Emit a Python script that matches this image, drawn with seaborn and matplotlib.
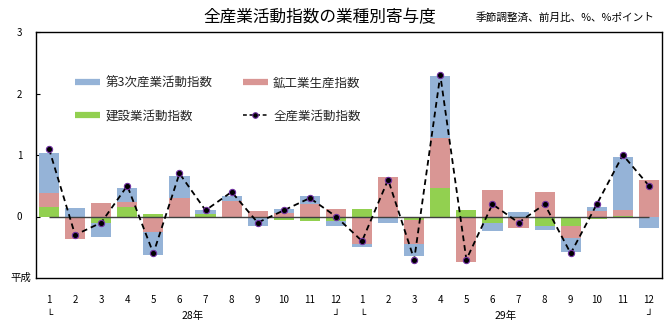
import numpy as np
import pandas as pd
import matplotlib
matplotlib.use("Agg")
import matplotlib.pyplot as plt
import matplotlib.transforms as mtransforms
from matplotlib.lines import Line2D
import seaborn as sns

# 平成28年1月〜29年12月、前月比への寄与度（%ポイント）
years = ["28年"] * 12 + ["29年"] * 12
months = list(range(1, 13)) * 2

tertiary = [0.65, 0.14, -0.22, 0.22, -0.37, 0.36, 0.06, 0.08, -0.15, 0.07, 0.13, -0.07,
            -0.06, -0.10, -0.21, 1.00, 0.00, -0.13, 0.07, -0.06, -0.22, 0.07, 0.86, -0.17]
mining = [0.23, -0.37, 0.22, 0.09, -0.25, 0.30, 0.00, 0.25, 0.09, 0.05, 0.20, 0.13,
          -0.44, 0.64, -0.39, 0.81, -0.74, 0.43, -0.17, 0.40, -0.19, 0.09, 0.10, 0.59]
construction = [0.15, 0.00, -0.11, 0.15, 0.04, 0.00, 0.04, -0.02, 0.00, -0.05, -0.07, -0.08,
                0.12, 0.00, -0.05, 0.47, 0.10, -0.11, -0.01, -0.16, -0.16, -0.04, 0.01, -0.01]
total = [1.1, -0.3, -0.1, 0.5, -0.6, 0.7, 0.1, 0.4, -0.1, 0.1, 0.3, 0.0,
         -0.4, 0.6, -0.7, 2.3, -0.7, 0.2, -0.1, 0.2, -0.6, 0.2, 1.0, 0.5]

BLUE = "#95B3D7"
RED = "#D99694"
GREEN = "#92D050"

sns.set_theme(style="white")
plt.rcParams["font.family"] = ["Noto Sans CJK JP", "DejaVu Sans"]

keys = [f"{y}{m}月" for y, m in zip(years, months)]
df = pd.DataFrame({
    "key": keys,
    "第3次産業活動指数": tertiary,
    "鉱工業生産指数": mining,
    "建設業活動指数": construction,
    "全産業活動指数": total,
})

fig = plt.figure(figsize=(6.7, 3.28), dpi=100)
ax = fig.add_axes([36 / 670, 1 - 278 / 328, 626 / 670, 246 / 328])

# stacked contributions: construction nearest zero, then mining, then tertiary
layers = [("建設業活動指数", GREEN), ("鉱工業生産指数", RED), ("第3次産業活動指数", BLUE)]
pos = np.zeros(len(df))
neg = np.zeros(len(df))
levels = []
for name, color in layers:
    v = df[name].to_numpy()
    pos = pos + np.clip(v, 0, None)
    neg = neg + np.clip(v, None, 0)
    levels.append((color, pos.copy(), neg.copy()))

for color, p, n in reversed(levels):
    for lev in (p, n):
        sns.barplot(x=df["key"], y=lev, order=keys, color=color, saturation=1,
                    width=0.77, linewidth=0, errorbar=None, ax=ax, zorder=1)

ax.hlines(0, 0, len(df) - 1, color="#404040", lw=1.0, zorder=2)

sns.lineplot(x=np.arange(len(df)), y=df["全産業活動指数"], ax=ax, sort=False,
             color="black", lw=1.3, linestyle=(0, (3.2, 2.2)), marker="o",
             markersize=4.5, markerfacecolor="black", markeredgecolor="#7030A0",
             markeredgewidth=0.8, zorder=3)

ax.set_xlim(-0.5, len(df) - 0.5)
ax.set_ylim(-1, 3)
ax.set_yticks([0, 1, 2, 3])
ax.set_yticklabels(["0", "1", "2", "3"])
ax.set_xticks(np.arange(len(df)))
ax.set_xticklabels([str(m) for m in months])
ax.set_xlabel("")
ax.set_ylabel("")
ax.tick_params(axis="y", left=True, direction="in", length=3, width=0.8,
               color="black", pad=10, labelsize=7, labelcolor="black")
ax.tick_params(axis="x", bottom=False, length=0, pad=12, labelsize=7, labelcolor="black")
for s in ax.spines.values():
    s.set_visible(True)
    s.set_color("black")
    s.set_linewidth(1.0)

# era label at the bottom of the value axis
ytrans = mtransforms.blended_transform_factory(ax.transAxes, ax.transData)
ax.text(-0.008, -1, "平成", transform=ytrans, ha="right", va="center",
        fontsize=7.5, color="black")

# year labels with bracket marks
xtrans = mtransforms.blended_transform_factory(ax.transData, ax.transAxes)
for i0, i1, label in [(0, 11, "28年"), (12, 23, "29年")]:
    ax.text((i0 + i1) / 2, -0.155, label, transform=xtrans, ha="center", va="center",
            fontsize=7.5, color="black")
    ax.text(i0, -0.152, "└", transform=xtrans, ha="center", va="center",
            fontsize=7.5, color="black", family="DejaVu Sans", fontweight="bold")
    ax.text(i1, -0.152, "┘", transform=xtrans, ha="center", va="center",
            fontsize=7.5, color="black", family="DejaVu Sans", fontweight="bold")

handles = [
    Line2D([], [], color=BLUE, lw=4.5, solid_capstyle="butt"),
    Line2D([], [], color=GREEN, lw=4.5, solid_capstyle="butt"),
    Line2D([], [], color=RED, lw=4.5, solid_capstyle="butt"),
    Line2D([], [], color="black", lw=1.1, linestyle=(0, (2.5, 1.8)), marker="o",
           markersize=4, markerfacecolor="black", markeredgecolor="#7030A0",
           markeredgewidth=0.8),
]
labels = ["第3次産業活動指数", "建設業活動指数", "鉱工業生産指数", "全産業活動指数"]
ax.legend(handles, labels, ncol=2, loc="upper left",
          bbox_to_anchor=((75 - 36) / 626, 0.819), frameon=False, fontsize=9,
          handlelength=2.0, handletextpad=0.42, columnspacing=2.45,
          labelspacing=1.62, borderpad=0, borderaxespad=0, numpoints=1)

fig.text(320 / 670, 1 - 18 / 328, "全産業活動指数の業種別寄与度", ha="center", va="center",
         fontsize=12, color="black")
fig.text(655 / 670, 1 - 18 / 328, "季節調整済、前月比、%、%ポイント", ha="right", va="center",
         fontsize=7.7, color="black")

fig.savefig("out.png", dpi=100)
